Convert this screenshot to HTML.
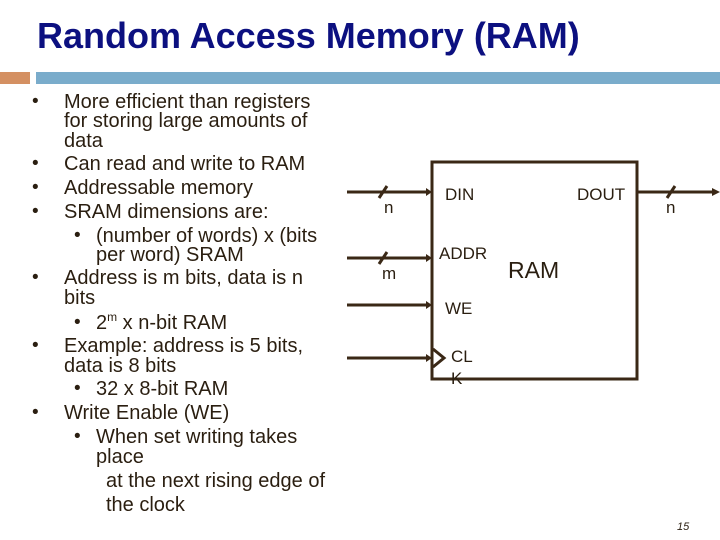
<!DOCTYPE html>
<html><head><style>
body{margin:0;width:720px;height:540px;background:#fff;position:relative;overflow:hidden;font-family:"Liberation Sans",sans-serif;}
.t{position:absolute;white-space:nowrap;color:#2a1e10;font-size:20px;line-height:20px}
.b{position:absolute;color:#2a1e10;font-size:19px;line-height:20px}
.l{position:absolute;white-space:nowrap;color:#2a1e10;font-size:17px;line-height:20px}
sup{line-height:0;vertical-align:8px;font-size:12px}
</style></head><body>
<div class="t" style="left:37px;top:16px;font-size:36px;line-height:40px;font-weight:bold;color:#0c1080">Random Access Memory (RAM)</div>
<div style="position:absolute;left:0;top:72px;width:30px;height:12px;background:#d49062"></div>
<div style="position:absolute;left:36px;top:72px;width:684px;height:12px;background:#7aaccb"></div>

<div class="b" style="left:32px;top:92px">•</div><div class="t" style="left:64px;top:92px">More efficient than registers</div>
<div class="t" style="left:64px;top:111px">for storing large amounts of</div>
<div class="t" style="left:64px;top:131px">data</div>
<div class="b" style="left:32px;top:154px">•</div><div class="t" style="left:64px;top:154px">Can read and write to RAM</div>
<div class="b" style="left:32px;top:178px">•</div><div class="t" style="left:64px;top:178px">Addressable memory</div>
<div class="b" style="left:32px;top:202px">•</div><div class="t" style="left:64px;top:202px">SRAM dimensions are:</div>
<div class="b" style="left:74px;top:226px">•</div><div class="t" style="left:96px;top:226px">(number of words) x (bits</div>
<div class="t" style="left:96px;top:245px">per word) SRAM</div>
<div class="b" style="left:32px;top:268px">•</div><div class="t" style="left:64px;top:268px">Address is m bits, data is n</div>
<div class="t" style="left:64px;top:288px">bits</div>
<div class="b" style="left:74px;top:313px">•</div><div class="t" style="left:96px;top:313px">2<sup>m</sup> x n-bit RAM</div>
<div class="b" style="left:32px;top:336px">•</div><div class="t" style="left:64px;top:336px">Example: address is 5 bits,</div>
<div class="t" style="left:64px;top:356px">data is 8 bits</div>
<div class="b" style="left:74px;top:379px">•</div><div class="t" style="left:96px;top:379px">32 x 8-bit RAM</div>
<div class="b" style="left:32px;top:403px">•</div><div class="t" style="left:64px;top:403px">Write Enable (WE)</div>
<div class="b" style="left:74px;top:427px">•</div><div class="t" style="left:96px;top:427px">When set writing takes</div>
<div class="t" style="left:96px;top:447px">place</div>
<div class="t" style="left:106px;top:471px">at the next rising edge of</div>
<div class="t" style="left:106px;top:495px">the clock</div>
<svg width="720" height="540" style="position:absolute;left:0;top:0">
<g stroke="#3a2816" stroke-width="3" fill="none">
<rect x="432" y="162" width="205" height="217"/>
<line x1="347" y1="192" x2="426" y2="192"/>
<line x1="347" y1="258" x2="426" y2="258"/>
<line x1="347" y1="305" x2="426" y2="305"/>
<line x1="347" y1="358" x2="426" y2="358"/>
<line x1="637" y1="192" x2="712" y2="192"/>
<line x1="379" y1="198" x2="387" y2="186"/>
<line x1="379" y1="264" x2="387" y2="252"/>
<line x1="667" y1="198" x2="675" y2="186"/>
<polyline points="433,349 444,358 433,367"/>
</g>
<g fill="#3a2816">
<polygon points="426,188 432,192 426,196"/>
<polygon points="426,254 432,258 426,262"/>
<polygon points="426,301 432,305 426,309"/>
<polygon points="426,354 432,358 426,362"/>
<polygon points="712,188 720,192 712,196"/>
</g>
</svg>
<div class="l" style="left:445px;top:185px">DIN</div>
<div class="l" style="left:577px;top:185px">DOUT</div>
<div class="l" style="left:439px;top:244px">ADDR</div>
<div class="l" style="left:508px;top:258px;font-size:23px;line-height:24px">RAM</div>
<div class="l" style="left:445px;top:299px">WE</div>
<div class="l" style="left:451px;top:347px">CL</div>
<div class="l" style="left:451px;top:369px">K</div>
<div class="l" style="left:384px;top:198px">n</div>
<div class="l" style="left:382px;top:264px">m</div>
<div class="l" style="left:666px;top:198px">n</div>
<div class="t" style="left:677px;top:517px;font-size:11px;font-style:italic">15</div>
</body></html>
